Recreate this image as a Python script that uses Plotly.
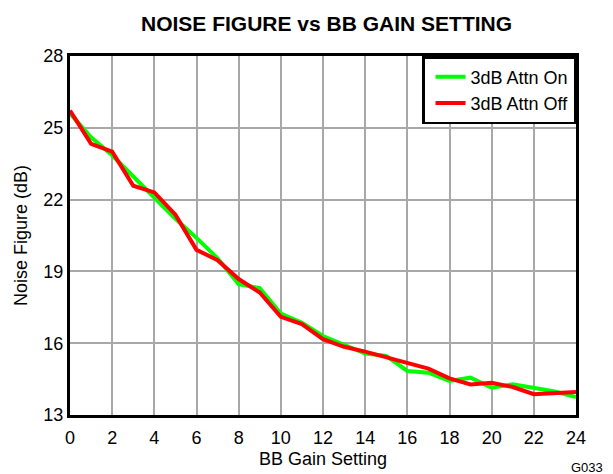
import plotly.graph_objects as go

gain_setting = list(range(0, 25))
nf_attn_on = [25.6, 24.6, 23.85, 22.95, 22.1, 21.2, 20.4, 19.55, 18.47, 18.3, 17.24, 16.85,
              16.3, 15.95, 15.57, 15.47, 14.84, 14.77, 14.42, 14.56, 14.14, 14.28, 14.14, 13.98, 13.75]
nf_attn_off = [25.72, 24.33, 24.0, 22.58, 22.3, 21.37, 19.9, 19.47, 18.68, 18.12, 17.1, 16.8,
               16.17, 15.85, 15.65, 15.4, 15.19, 14.94, 14.53, 14.28, 14.35, 14.17, 13.87, 13.9, 13.96]
x_ticks = list(range(0, 25, 2))
y_ticks = [13, 16, 19, 22, 25, 28]

font = "Liberation Sans, Arial, sans-serif"

fig = go.Figure()
fig.add_trace(go.Scatter(x=gain_setting, y=nf_attn_on, mode="lines", name="3dB Attn On",
                         line=dict(color="#00ff00", width=4)))
fig.add_trace(go.Scatter(x=gain_setting, y=nf_attn_off, mode="lines", name="3dB Attn Off",
                         line=dict(color="#ff0000", width=4)))

fig.update_layout(
    width=605, height=466,
    margin=dict(l=62, r=37, t=48, b=59),
    paper_bgcolor="white", plot_bgcolor="white",
    font=dict(family=font, size=18, color="black"),
    title=dict(text="<b>NOISE FIGURE vs BB GAIN SETTING</b>", x=0.5265, xanchor="center",
               y=0.9667, yanchor="middle", font=dict(size=21, family=font)),
    showlegend=True,
    legend=dict(x=1, y=1, xanchor="right", yanchor="top", bgcolor="white",
                bordercolor="black", borderwidth=2.5, font=dict(size=18, family=font),
                tracegroupgap=0, itemwidth=30, indentation=6),
)
fig.update_xaxes(range=[0, 24], tickvals=x_ticks, showgrid=True, gridcolor="#a8a8a8", gridwidth=1.5,
                 showline=True, linecolor="black", linewidth=3, mirror=True, ticks="",
                 ticklabelstandoff=4, automargin=False,
                 title=dict(text="BB Gain Setting", standoff=6, font=dict(size=18)), zeroline=False,
                 tickfont=dict(size=18))
fig.update_yaxes(range=[13, 28], tickvals=y_ticks, showgrid=True, gridcolor="#a8a8a8", gridwidth=1.5,
                 showline=True, linecolor="black", linewidth=3, mirror=True, ticks="",
                 automargin=False,
                 title=dict(text="Noise Figure (dB)", standoff=12, font=dict(size=18)), zeroline=False,
                 tickfont=dict(size=18))
fig.add_annotation(text="G033", xref="paper", yref="paper", x=1.058, y=-0.145, xanchor="right",
                   yanchor="middle", showarrow=False, font=dict(size=13, family=font))

fig.write_html("out.html")
